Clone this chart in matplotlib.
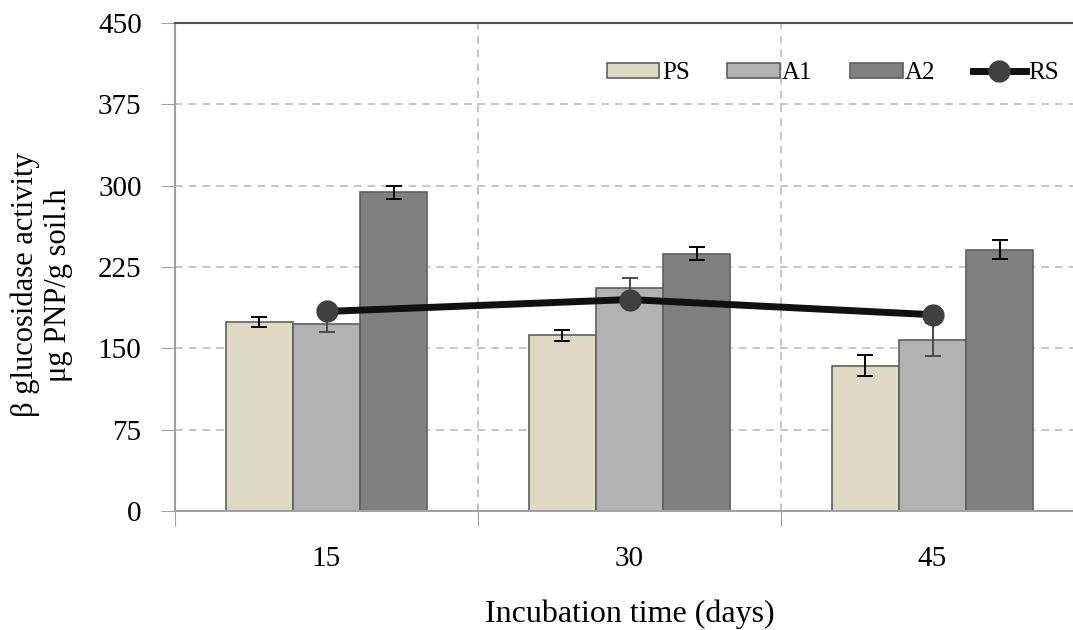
#!/usr/bin/env python3

import matplotlib
matplotlib.use("Agg")
import matplotlib.pyplot as plt
import numpy as np

days = ["15", "30", "45"]
ps = [174, 162, 134]
ps_err = [4.5, 5, 9.5]
a1 = [172, 206, 158]
a1_err = [7, 9, 15]
a2 = [294, 237, 241]
a2_err = [6, 6, 9]
rs = [184, 195, 181]
y_ticks = [0, 75, 150, 225, 300, 375, 450]


def main():
    plt.rcParams["font.family"] = ["Liberation Serif", "DejaVu Serif"]
    fig = plt.figure(figsize=(10.73, 6.3), dpi=100)
    ax = fig.add_axes([175 / 1073, 1 - 511 / 630, 909 / 1073, 488 / 630])

    x = np.arange(len(days))
    w = 0.222
    edge = "#5f5f5f"
    bars = [
        (ps, ps_err, "#ddd9c3", "PS", "black"),
        (a1, a1_err, "#b2b2b2", "A1", "#4a4a4a"),
        (a2, a2_err, "#808080", "A2", "black"),
    ]
    handles = []
    for i, (vals, err, col, lab, ecol) in enumerate(bars):
        h = ax.bar(x + (i - 1) * w, vals, w, color=col, edgecolor=edge,
                   linewidth=1.2, label=lab, zorder=2)
        handles.append(h)
        ax.errorbar(x + (i - 1) * w, vals, yerr=err, fmt="none",
                    ecolor=ecol, elinewidth=1.4, capsize=6, capthick=1.4,
                    zorder=3)
    line, = ax.plot(x, rs, color="#111111", linewidth=5, marker="o",
                    markersize=15, markerfacecolor="#404040",
                    markeredgecolor="#404040", label="RS", zorder=4)
    handles.append(line)

    ax.set_xlim(-0.5, 2.5)
    ax.set_ylim(0, 450)
    ax.set_yticks(y_ticks)
    ax.set_xticks([-0.5, 0.5, 1.5, 2.5])
    ax.set_xticklabels([])
    ax.set_xticks(x, minor=True)
    ax.set_xticklabels(days, minor=True, fontsize=21)
    ax.tick_params(axis="x", which="minor", length=0, pad=25)
    ax.tick_params(axis="x", which="major", length=11, color="#a0a0a0",
                   direction="out")
    ax.tick_params(axis="y", length=10, color="#a0a0a0", labelsize=21,
                   pad=14)
    ax.grid(True, which="major", linestyle=(0, (5, 4)), color="#b5b5b5",
            linewidth=1.1, zorder=0)
    ax.set_axisbelow(True)
    for s in ["left", "bottom"]:
        ax.spines[s].set_color("#a0a0a0")
        ax.spines[s].set_linewidth(1.5)
    ax.spines["top"].set_color("#505050")
    ax.spines["top"].set_linewidth(1.5)
    ax.spines["right"].set_visible(False)

    fig.text(42 / 1073, 1 - 285 / 630,
             "\u03b2 glucosidase activity\n\u03bcg PNP/g soil.h",
             rotation=90, fontsize=22, ha="center", va="center",
             multialignment="center", linespacing=1.2)
    fig.text(630 / 1073, 1 - 614 / 630, "Incubation time (days)",
             fontsize=23, ha="center", va="center")

    fig.legend(handles=handles, loc="upper left",
               bbox_to_anchor=(607 / 1073, 1 - 62 / 630),
               ncol=4, frameon=False, fontsize=18, handlelength=2.1,
               handleheight=0.55, handletextpad=0.1, columnspacing=1.5,
               borderpad=0, borderaxespad=0)

    fig.savefig("out.png", dpi=100)


if __name__ == "__main__":
    main()
